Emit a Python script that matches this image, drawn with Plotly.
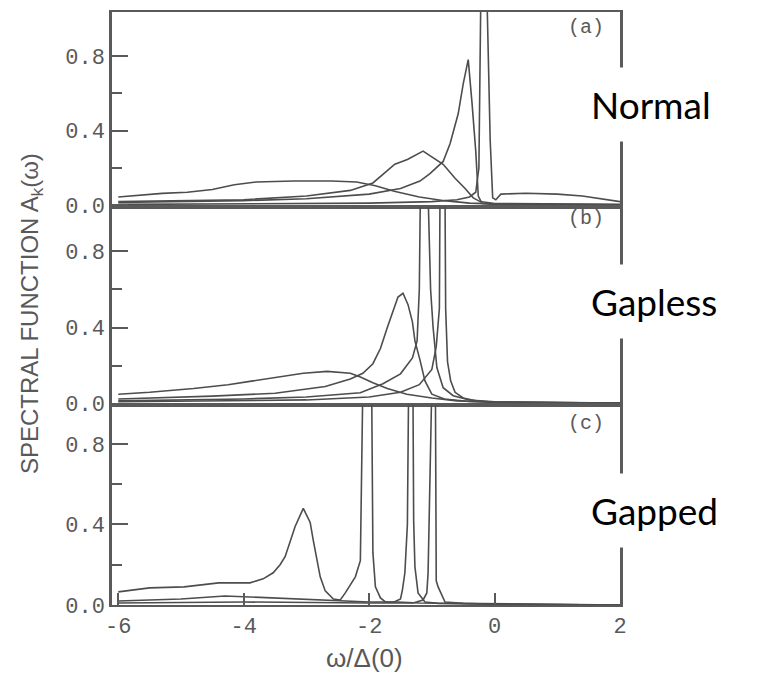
import plotly.graph_objects as go
from plotly.subplots import make_subplots

# ---- (a) normal state: spectral function A_k(w) for four k points ----
normal_w1 = [-6.0, -4.0, -2.0, -1.0, -0.6, -0.4, -0.3, -0.25, -0.22, -0.17, -0.12, -0.07, -0.03, 0.02, 0.1, 0.5, 1.0, 1.4, 2.0]
normal_a1 = [0.005, 0.008, 0.012, 0.02, 0.03, 0.045, 0.07, 0.2, 1.1, 3.0, 1.1, 0.35, 0.04, 0.03, 0.06, 0.065, 0.06, 0.05, 0.02]

normal_w2 = [-6.0, -4.0, -3.0, -2.0, -1.5, -1.19, -1.03, -0.82, -0.71, -0.58, -0.5, -0.42, -0.36, -0.3, -0.26, -0.2, 0.0, 2.0]
normal_a2 = [0.015, 0.025, 0.035, 0.06, 0.09, 0.13, 0.17, 0.235, 0.33, 0.49, 0.65, 0.78, 0.55, 0.29, 0.05, 0.01, 0.005, 0.002]

normal_w3 = [-6.0, -4.0, -3.0, -2.3, -1.94, -1.78, -1.59, -1.39, -1.14, -0.82, -0.63, -0.47, -0.34, -0.23, 0.0, 2.0]
normal_a3 = [0.02, 0.03, 0.05, 0.08, 0.12, 0.165, 0.22, 0.245, 0.29, 0.22, 0.145, 0.09, 0.04, 0.02, 0.01, 0.005]

normal_w4 = [-6.0, -5.3, -4.9, -4.5, -4.15, -3.8, -3.2, -2.6, -2.2, -1.9, -1.6, -1.2, -0.8, -0.4, 0.0, 2.0]
normal_a4 = [0.045, 0.064, 0.07, 0.085, 0.11, 0.125, 0.13, 0.13, 0.125, 0.105, 0.075, 0.045, 0.025, 0.012, 0.008, 0.003]

# ---- (b) gapless superconductor ----
gapless_w1 = [-6.0, -4.0, -3.0, -2.14, -1.78, -1.5, -1.31, -1.235, -1.2, -1.18, -1.12, -1.06, -1.02, -0.98, -0.92, -0.82, -0.66, -0.4, 0.0, 2.0]
gapless_a1 = [0.015, 0.025, 0.035, 0.058, 0.105, 0.157, 0.24, 0.33, 0.6, 1.1, 3.0, 1.1, 0.6, 0.4, 0.19, 0.084, 0.042, 0.02, 0.01, 0.003]

gapless_w2 = [-6.0, -3.0, -2.0, -1.5, -1.2, -1.0, -0.93, -0.88, -0.87, -0.83, -0.79, -0.78, -0.75, -0.7, -0.63, -0.5, -0.3, 0.0, 2.0]
gapless_a2 = [0.01, 0.02, 0.035, 0.06, 0.1, 0.18, 0.3, 0.5, 1.1, 3.0, 1.1, 0.5, 0.22, 0.12, 0.06, 0.03, 0.015, 0.008, 0.002]

gapless_w3 = [-6.0, -4.5, -3.5, -2.7, -2.3, -2.1, -1.94, -1.82, -1.71, -1.62, -1.54, -1.46, -1.38, -1.31, -1.27, -1.19, -1.11, -1.0, -0.8, -0.4, 0.0, 2.0]
gapless_a3 = [0.025, 0.04, 0.055, 0.09, 0.13, 0.16, 0.21, 0.29, 0.40, 0.49, 0.56, 0.58, 0.52, 0.43, 0.33, 0.23, 0.12, 0.05, 0.025, 0.012, 0.008, 0.003]

gapless_w4 = [-6.0, -5.5, -4.8, -4.25, -3.85, -3.45, -3.05, -2.67, -2.3, -2.14, -1.94, -1.71, -1.4, -1.0, -0.6, 0.0, 2.0]
gapless_a4 = [0.05, 0.06, 0.08, 0.10, 0.12, 0.14, 0.16, 0.17, 0.16, 0.14, 0.11, 0.08, 0.05, 0.03, 0.015, 0.008, 0.003]

# ---- (c) gapped superconductor ----
gapped_w1 = [-6.0, -5.5, -4.95, -4.4, -3.9, -3.69, -3.53, -3.42, -3.34, -3.26, -3.18, -3.05, -2.94, -2.89, -2.83, -2.78,
             -2.7, -2.57, -2.46, -2.38, -2.22, -2.14, -2.1, -2.03, -1.96, -1.94, -1.9, -1.82, -1.74, -1.55, -1.2, 0.0, 2.0]
gapped_a1 = [0.065, 0.085, 0.09, 0.11, 0.11, 0.13, 0.16, 0.20, 0.24, 0.31, 0.39, 0.48, 0.41, 0.32, 0.22, 0.14,
             0.07, 0.03, 0.025, 0.06, 0.14, 0.22, 1.1, 3.0, 1.1, 0.26, 0.09, 0.035, 0.015, 0.015, 0.01, 0.005, 0.0]

gapped_w2 = [-6.0, -5.0, -4.3, -3.5, -2.5, -2.0, -1.6, -1.5, -1.47, -1.43, -1.39, -1.37, -1.335, -1.3, -1.29, -1.27, -1.22, -1.11, -0.9, 0.0, 2.0]
gapped_a2 = [0.02, 0.03, 0.045, 0.035, 0.02, 0.015, 0.015, 0.03, 0.074, 0.16, 0.4, 1.1, 3.0, 1.1, 0.42, 0.19, 0.06, 0.015, 0.008, 0.004, 0.0]

gapped_w3 = [-6.0, -4.0, -2.0, -1.3, -1.14, -1.08, -1.06, -1.0, -0.97, -0.94, -0.93, -0.9, -0.79, -0.5, 0.0, 2.0]
gapped_a3 = [0.01, 0.015, 0.01, 0.01, 0.025, 0.06, 0.16, 1.1, 3.0, 1.1, 0.12, 0.09, 0.015, 0.008, 0.004, 0.0]

x_ticks = [-6, -4, -2, 0, 2]
x_tick_text = ["-6", "-4", "-2", "0", "2"]
y_ticks = [0.0, 0.4, 0.8]
y_tick_text = ["0.0", "0.4", "0.8"]
panel_tags = ["(a)", "(b)", "(c)"]
state_names = ["Normal", "Gapless", "Gapped"]

LINE = "#4d4d4d"
AXIS = "#5a5a5a"
TEXT = "#595959"
TICKFONT = dict(family="Liberation Mono", size=22, color=TEXT)

fig = make_subplots(rows=3, cols=1, shared_xaxes=True, vertical_spacing=0)

panels = [
    [(normal_w1, normal_a1), (normal_w2, normal_a2), (normal_w3, normal_a3), (normal_w4, normal_a4)],
    [(gapless_w1, gapless_a1), (gapless_w2, gapless_a2), (gapless_w3, gapless_a3), (gapless_w4, gapless_a4)],
    [(gapped_w1, gapped_a1), (gapped_w2, gapped_a2), (gapped_w3, gapped_a3)],
]
for row, curves in enumerate(panels, start=1):
    for w, a in curves:
        fig.add_trace(go.Scatter(x=w, y=a, mode="lines", line=dict(color=LINE, width=1.6),
                                 showlegend=False, hoverinfo="skip"), row=row, col=1)

# panel heights / value ranges
domains = [[0.6706, 1.0], [0.3378, 0.6706], [0.0, 0.3378]]
ranges = [[-0.0107, 1.035], [-0.005, 1.031], [0.0, 0.995]]

for i in range(3):
    ax = "yaxis" if i == 0 else f"yaxis{i + 1}"
    fig.layout[ax].update(
        domain=domains[i], range=ranges[i],
        tickvals=y_ticks, ticktext=y_tick_text, tickfont=TICKFONT,
        ticks="inside", ticklen=16, tickwidth=2, tickcolor=AXIS,
        minor=dict(tickvals=[0.2, 0.6], ticks="inside", ticklen=10, tickwidth=2, tickcolor=AXIS),
        showline=True, linecolor=AXIS, linewidth=2.5, mirror=True,
        showgrid=False, zeroline=False,
    )
    xa = "xaxis" if i == 0 else f"xaxis{i + 1}"
    bottom = i == 2
    fig.layout[xa].update(
        range=[-6.1, 2.0], showline=True, linecolor=AXIS, linewidth=2, mirror=True,
        showgrid=False, zeroline=False,
        tickvals=x_ticks, ticktext=x_tick_text, showticklabels=bottom,
        ticks="inside" if bottom else "", ticklen=12, tickwidth=2, tickcolor=AXIS,
        tickfont=TICKFONT,
    )

# panel tags in the upper right corner of each panel
tag_y = [0.9735, 0.6521, 0.3067]
for tag, ty in zip(panel_tags, tag_y):
    fig.add_annotation(xref="paper", yref="paper", x=0.933, y=ty, xanchor="center", yanchor="middle",
                       text=tag, showarrow=False,
                       font=dict(family="Liberation Mono", size=20, color=TEXT))

# state names at the right edge
name_y = [0.8437, 0.5126, 0.1597]
for name, ny in zip(state_names, name_y):
    fig.add_annotation(xref="paper", yref="paper", x=0.913, y=ny, xanchor="left", yanchor="middle",
                       text=name, showarrow=False, bgcolor="white", borderpad=14,
                       font=dict(family="Lato", size=37, color="black"))

# axis titles
fig.add_annotation(xref="paper", yref="paper", x=-0.157, y=0.491, xanchor="center", yanchor="middle",
                   text="SPECTRAL FUNCTION A<sub>k</sub>(ω)", textangle=-90, showarrow=False,
                   font=dict(family="Liberation Sans", size=24, color=TEXT))
fig.add_annotation(xref="paper", yref="paper", x=0.498, y=-0.089, xanchor="center", yanchor="middle",
                   text="ω/Δ(0)", showarrow=False,
                   font=dict(family="Liberation Sans", size=26, color=TEXT))

fig.update_layout(
    width=761, height=673,
    margin=dict(l=112, r=141, t=10, b=68),
    plot_bgcolor="white", paper_bgcolor="white",
)

fig.write_html("out.html")
